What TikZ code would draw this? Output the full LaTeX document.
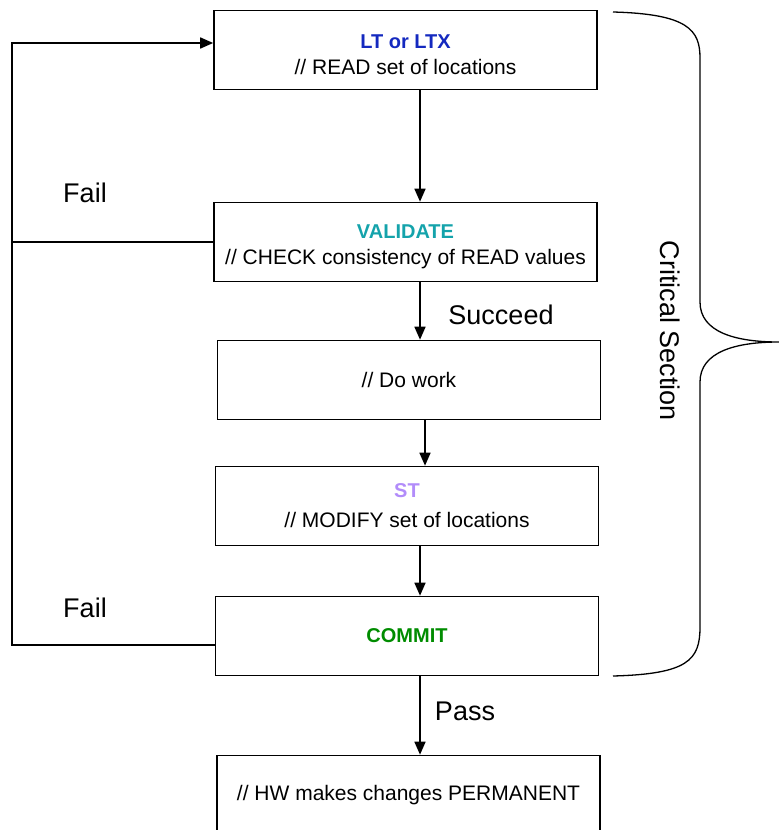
\documentclass[tikz,border=0pt]{standalone}
\usepackage{fontspec}
\setmainfont{Liberation Sans}
\usetikzlibrary{arrows.meta, positioning}
\definecolor{ltblue}{rgb}{0.08, 0.16, 0.75}
\definecolor{valteal}{rgb}{0.08, 0.64, 0.67}
\definecolor{stlilac}{rgb}{0.70, 0.55, 0.98}
\definecolor{commitgreen}{rgb}{0.0, 0.55, 0.0}
\newcommand{\boxtitle}[2]{{\rule{0pt}{22.5pt}\fontsize{20}{26}\selectfont\bfseries\color{#1}#2}}

\begin{document}
\begin{tikzpicture} [%
    x = 1pt, y = -1pt,
    >= { Triangle[length=13pt, width=11pt] },
    line width = 1.6pt,
    every node/.style = { font = \fontsize{21}{26}\selectfont },
    stepbox/.style = {%
      draw,
      line width = 1.6pt,
      minimum width = 383pt,
      minimum height = 79pt,
      align = center,
      inner sep = 0pt },
    tag/.style = { font = \fontsize{27}{32}\selectfont }
  ]

  \useasboundingbox (0,0) rectangle (779,830);
  \clip (0,0) rectangle (779,830);

  \node[stepbox] (lt)     at (405.5,50)  {\boxtitle{ltblue}{LT or LTX}\\// READ set of locations};
  \node[stepbox] (val)    at (405.5,242) {\boxtitle{valteal}{VALIDATE}\\// CHECK consistency of READ values};
  \node[stepbox] (work)   at (409,380)   {// Do work};
  \node[stepbox] (st)     at (407,506)   {{\fontsize{20}{26}\selectfont\bfseries\color{stlilac}ST}\\[4pt]// MODIFY set of locations};
  \node[stepbox] (commit) at (407,636)   {\fontsize{20}{26}\selectfont\bfseries\color{commitgreen}COMMIT};
  \node[stepbox] (hw)     at (408.5,795) {// HW makes changes PERMANENT};

  \coordinate (loop) at (12,43);

  % main flow
  \draw[->] ([xshift=14.5pt]lt.south)   -- ([xshift=14.5pt]val.north);
  \draw[->] ([xshift=14.5pt]val.south)  -- ([xshift=11pt]work.north);
  \draw[->] ([xshift=16pt]work.south)   -- ([xshift=18pt]st.north);
  \draw[->] ([xshift=13pt]st.south)     -- ([xshift=13pt]commit.north);
  \draw[->] ([xshift=13pt]commit.south) -- ([xshift=11.5pt]hw.north);

  % retry loop
  \draw[->] ([yshift=-9pt]commit.west) -| (loop) -- ([yshift=7pt]lt.west);
  \draw (val.west) -- (val.west -| loop);

  \node[tag] (fail1)   at (85,193)  {Fail};
  \node[tag] (fail2)   at (85,608)  {Fail};
  \node[tag] (succeed) at (501,315) {Succeed};
  \node[tag] (pass)    at (465,711) {Pass};

  % brace
  \draw[line width=1.3pt] (613,12) .. controls (688,14) and (700,30) .. (700,58)
    -- (700,302) .. controls (700,332) and (735,342) .. (779,342)
    .. controls (735,342) and (700,352) .. (700,382)
    -- (700,627) .. controls (700,660) and (688,674) .. (613,676);
  \node[tag, rotate=-90] (crit) at (670,331) {Critical Section};

\end{tikzpicture}
\end{document}
